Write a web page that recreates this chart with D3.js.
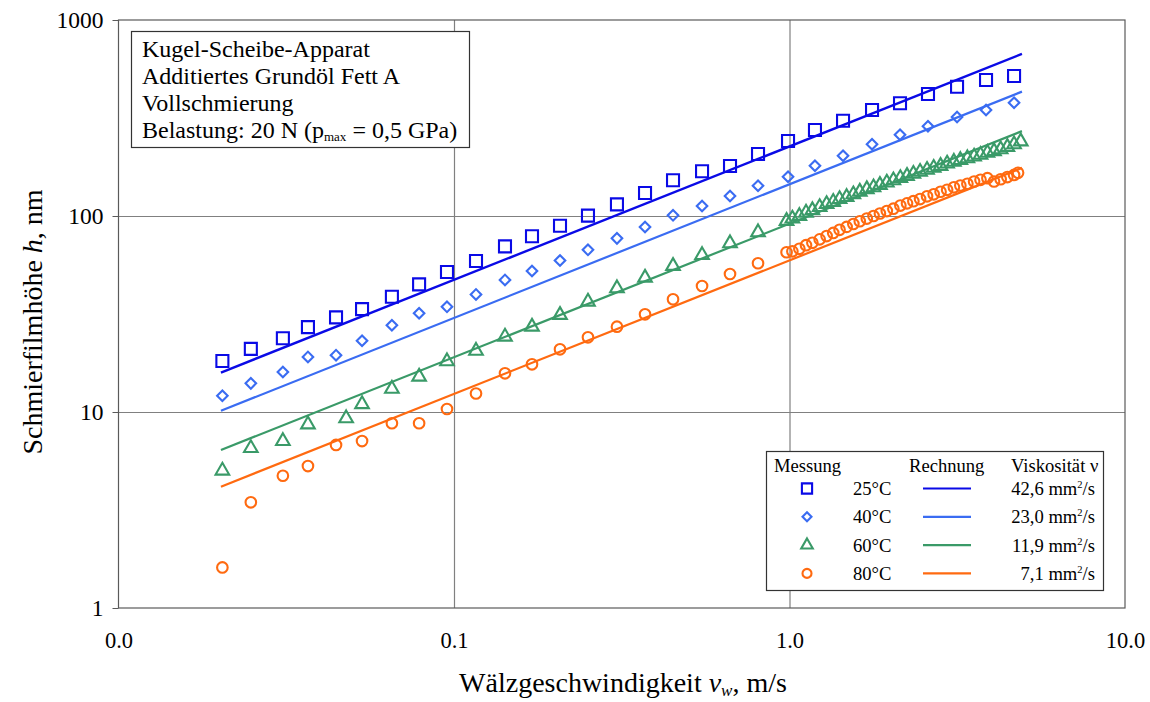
<!DOCTYPE html>
<html><head><meta charset="utf-8">
<script src="https://cdn.jsdelivr.net/npm/d3@7"></script>
<style>
body{margin:0;background:#fff}
svg{display:block}
text{font-family:"Liberation Serif","Times New Roman",serif;fill:#000}
</style>
</head><body>
<svg id="c" width="1150" height="702"></svg>
<script>
// ---------- data ----------
const xTicks = [0.01, 0.1, 1, 10];
const xTickLabels = ["0.0", "0.1", "1.0", "10.0"];
const yTicks = [1, 10, 100, 1000];
const yTickLabels = ["1", "10", "100", "1000"];

// measurement speeds (m/s)
const speed25 = [0.0204,0.0248,0.0309,0.0367,0.0445,0.0532,0.0653,0.0787,0.0953,0.1163,0.1419,0.1708,0.207,0.2508,0.306,0.371,0.4496,0.5487,0.6648,0.8057,0.99,1.191,1.444,1.762,2.135,2.587,3.158,3.853,4.67];
const speed40 = speed25;
const speed60 = [0.0204,0.0248,0.0309,0.0367,0.0477,0.0532,0.0653,0.0787,0.0953,0.1163,0.1419,0.1708,0.207,0.2508,0.306,0.371,0.4496,0.5487,0.6648,0.8057,0.98,
  1.02,1.07,1.12,1.17,1.23,1.29,1.35,1.41,1.48,1.55,1.62,1.70,1.78,1.86,1.95,2.04,2.14,2.24,2.34,2.45,2.57,2.69,2.82,2.95,3.09,3.23,3.39,3.55,3.71,3.89,4.07,4.26,4.46,4.67,4.89];
const speed80 = [0.0204,0.0248,0.0309,0.0367,0.0445,0.0532,0.0653,0.0787,0.0953,0.1163,0.1419,0.1708,0.207,0.2508,0.306,0.371,0.4496,0.5487,0.6648,0.8057,0.98,
  1.02,1.07,1.12,1.17,1.23,1.29,1.35,1.41,1.48,1.55,1.62,1.70,1.78,1.86,1.95,2.04,2.14,2.24,2.34,2.45,2.57,2.69,2.82,2.95,3.09,3.23,3.39,3.55,3.71,3.89,4.07,4.26,4.46,4.67,4.80];

// measured film thickness (nm)
const h25 = [18.2,21.0,23.8,27.1,30.4,33.5,38.7,44.8,51.8,58.9,70.0,78.8,89.2,100.4,114.7,131.0,152.1,169.1,179.9,207.2,241.3,274.7,306.4,347.4,375.8,419.3,456.7,494.2,518];
const h40 = [12.1,14.0,16.0,19.1,19.5,23.1,27.7,31.9,34.4,39.8,47.2,52.4,59.3,67.2,76.9,87.9,100.8,112.5,126.5,142.7,158.7,180.4,203.1,232.4,259.9,286.9,319.9,347.4,378.5];
const h60 = [5.02,6.54,7.11,8.64,9.29,10.96,13.13,15.14,18.14,20.52,24.23,27.24,31.26,36.54,42.77,48.44,55.58,63.24,72.55,82.57,94.3,
  97,100,104,107,111,115,118,122,125,129,133,137,140,144,148,152,156,160,164,168,172,176,180,185,189,193,197,201,205,210,214,219,225,232,240];
const h80 = [1.61,3.46,4.73,5.30,6.79,7.11,8.76,8.76,10.36,12.43,15.75,17.51,20.89,24.05,27.24,31.51,37.58,43.95,50.6,57.4,65.3,
  66,68,71,73,76,79,82,85,88,91,94,97,100,103,106,109,113,116,119,122,126,129,133,136,140,143,146,150,153,156,150,154,158,162,166];

// calculated (Rechnung) lines
const calcSpeed = [0.0202, 4.93];
const calc25 = [15.9, 671];
const calc40 = [10.15, 431];
const calc60 = [6.40, 271];
const calc80 = [4.16, 176];

const tempLabels = ["25°C", "40°C", "60°C", "80°C"];
const viscLabels = ["42,6", "23,0", "11,9", "7,1"];
const colors = ["#0a0ae6", "#3a6cf2", "#3a9a68", "#ff6a10"];
const shapes = ["square", "diamond", "triangle", "circle"];

const series = [
  {x: speed25, y: h25, cx: calcSpeed, cy: calc25},
  {x: speed40, y: h40, cx: calcSpeed, cy: calc40},
  {x: speed60, y: h60, cx: calcSpeed, cy: calc60},
  {x: speed80, y: h80, cx: calcSpeed, cy: calc80}
];

// ---------- chart ----------
const svg = d3.select("#c");
const L = 118.5, R = 1125, T = 20, B = 608;
const x = d3.scaleLog().domain([0.01, 10]).range([L, R]);
const y = d3.scaleLog().domain([1, 1000]).range([B, T]);

// grid
svg.append("g").attr("transform", `translate(0,${B})`)
  .call(d3.axisBottom(x).tickValues([0.1, 1]).tickSize(-(B - T)).tickFormat(""))
  .call(g => g.select(".domain").remove())
  .call(g => g.selectAll("line").attr("stroke", "#808080").attr("stroke-width", 1.2));
svg.append("g").attr("transform", `translate(${L},0)`)
  .call(d3.axisLeft(y).tickValues([10, 100]).tickSize(-(R - L)).tickFormat(""))
  .call(g => g.select(".domain").remove())
  .call(g => g.selectAll("line").attr("stroke", "#808080").attr("stroke-width", 1.2));

// frame
svg.append("rect").attr("x", L).attr("y", T).attr("width", R - L).attr("height", B - T)
  .attr("fill", "none").attr("stroke", "#5a5a5a").attr("stroke-width", 1.2);

// y axis
svg.append("g").attr("transform", `translate(${L},0)`)
  .call(d3.axisLeft(y).tickValues(yTicks).tickSize(6).tickPadding(9)
    .tickFormat((d, i) => yTickLabels[i]))
  .call(g => g.select(".domain").remove())
  .call(g => g.selectAll("line").attr("stroke", "#5a5a5a"))
  .call(g => g.selectAll("text").attr("font-size", 23.5).attr("font-family", "Liberation Serif, serif"));

// x axis labels
svg.append("g").attr("transform", `translate(0,${B})`)
  .call(d3.axisBottom(x).tickValues(xTicks).tickSize(0).tickPadding(24)
    .tickFormat((d, i) => xTickLabels[i]))
  .call(g => g.select(".domain").remove())
  .call(g => g.selectAll("text").attr("font-size", 22.5).attr("font-family", "Liberation Serif, serif"));

// axis titles
const xt = svg.append("text").attr("x", 623).attr("y", 692).attr("text-anchor", "middle").attr("font-size", 28);
xt.append("tspan").text("Wälzgeschwindigkeit ");
xt.append("tspan").attr("font-style", "italic").text("v");
xt.append("tspan").attr("font-style", "italic").attr("font-size", 17).attr("dy", 4).text("w");
xt.append("tspan").attr("dy", -4).text(", m/s");

const yt = svg.append("text").attr("transform", "translate(42,322) rotate(-90)")
  .attr("text-anchor", "middle").attr("font-size", 28);
yt.append("tspan").text("Schmierfilmhöhe ");
yt.append("tspan").attr("font-style", "italic").text("h");
yt.append("tspan").text(", nm");

// calc lines
const line = d3.line().x(d => x(d[0])).y(d => y(d[1]));
const plot = svg.append("g");
series.forEach((s, i) => {
  plot.append("path").datum(s.cx.map((v, k) => [v, s.cy[k]]))
    .attr("d", line).attr("fill", "none").attr("stroke", colors[i]).attr("stroke-width", i === 0 ? 2.4 : 2.2);
});

function marker(g, shape, color, scale) {
  const sc = scale || 1;
  let p;
  if (shape === "square") p = g.append("path").attr("d", d3.symbol(d3.symbolSquare, 144 * sc * sc)());
  else if (shape === "diamond") p = g.append("path").attr("d", d3.symbol(d3.symbolSquare, 56 * sc * sc)()).attr("transform", "rotate(45)");
  else if (shape === "triangle") p = g.append("path").attr("d", d3.symbol(d3.symbolTriangle, 80 * sc * sc)());
  else p = g.append("path").attr("d", d3.symbol(d3.symbolCircle, 88 * sc * sc)());
  p.attr("fill", "none").attr("stroke", color).attr("stroke-width", 2.1);
}

series.forEach((s, i) => {
  s.x.forEach((v, k) => {
    const g = plot.append("g").attr("transform", `translate(${x(v)},${y(s.y[k])})`);
    marker(g, shapes[i], colors[i]);
  });
});

// info box
const ib = svg.append("g");
ib.append("rect").attr("x", 131.5).attr("y", 31.5).attr("width", 338).attr("height", 116)
  .attr("fill", "#fff").attr("stroke", "#333").attr("stroke-width", 1.2);
const infoLines = ["Kugel-Scheibe-Apparat", "Additiertes Grundöl Fett A", "Vollschmierung"];
const ifs = 24;
infoLines.forEach((t, i) => {
  ib.append("text").attr("x", 142).attr("y", 56.5 + i * 27).attr("font-size", ifs).text(t);
});
const bl = ib.append("text").attr("x", 142).attr("y", 56.5 + 3 * 27).attr("font-size", ifs);
bl.append("tspan").text("Belastung: 20 N (p");
bl.append("tspan").attr("font-size", 13).attr("dy", 3).text("max");
bl.append("tspan").attr("dy", -3).text(" = 0,5 GPa)");

// legend
const lg = svg.append("g");
lg.append("rect").attr("x", 766.5).attr("y", 451.5).attr("width", 337).attr("height", 139)
  .attr("fill", "#fff").attr("stroke", "#333").attr("stroke-width", 1.2);
const lfs = 18.6;
lg.append("text").attr("x", 774).attr("y", 472).attr("font-size", lfs).text("Messung");
lg.append("text").attr("x", 909).attr("y", 472).attr("font-size", lfs).text("Rechnung");
lg.append("text").attr("x", 1011).attr("y", 472).attr("font-size", lfs).text("Viskosität ν");
tempLabels.forEach((t, i) => {
  const cy = 488.5 + i * 28.3;
  const g = lg.append("g").attr("transform", `translate(807,${cy})`);
  marker(g, shapes[i], colors[i], 0.85);
  lg.append("text").attr("x", 853).attr("y", cy + 6.5).attr("font-size", lfs).text(t);
  lg.append("line").attr("x1", 923).attr("x2", 971).attr("y1", cy).attr("y2", cy)
    .attr("stroke", colors[i]).attr("stroke-width", 2.2);
  const vt = lg.append("text").attr("x", 1095).attr("y", cy + 6.5).attr("font-size", lfs).attr("text-anchor", "end");
  vt.append("tspan").text(viscLabels[i] + " mm");
  vt.append("tspan").attr("font-size", 10.5).attr("dy", -7).text("2");
  vt.append("tspan").attr("dy", 7).text("/s");
});
</script>
</body></html>
